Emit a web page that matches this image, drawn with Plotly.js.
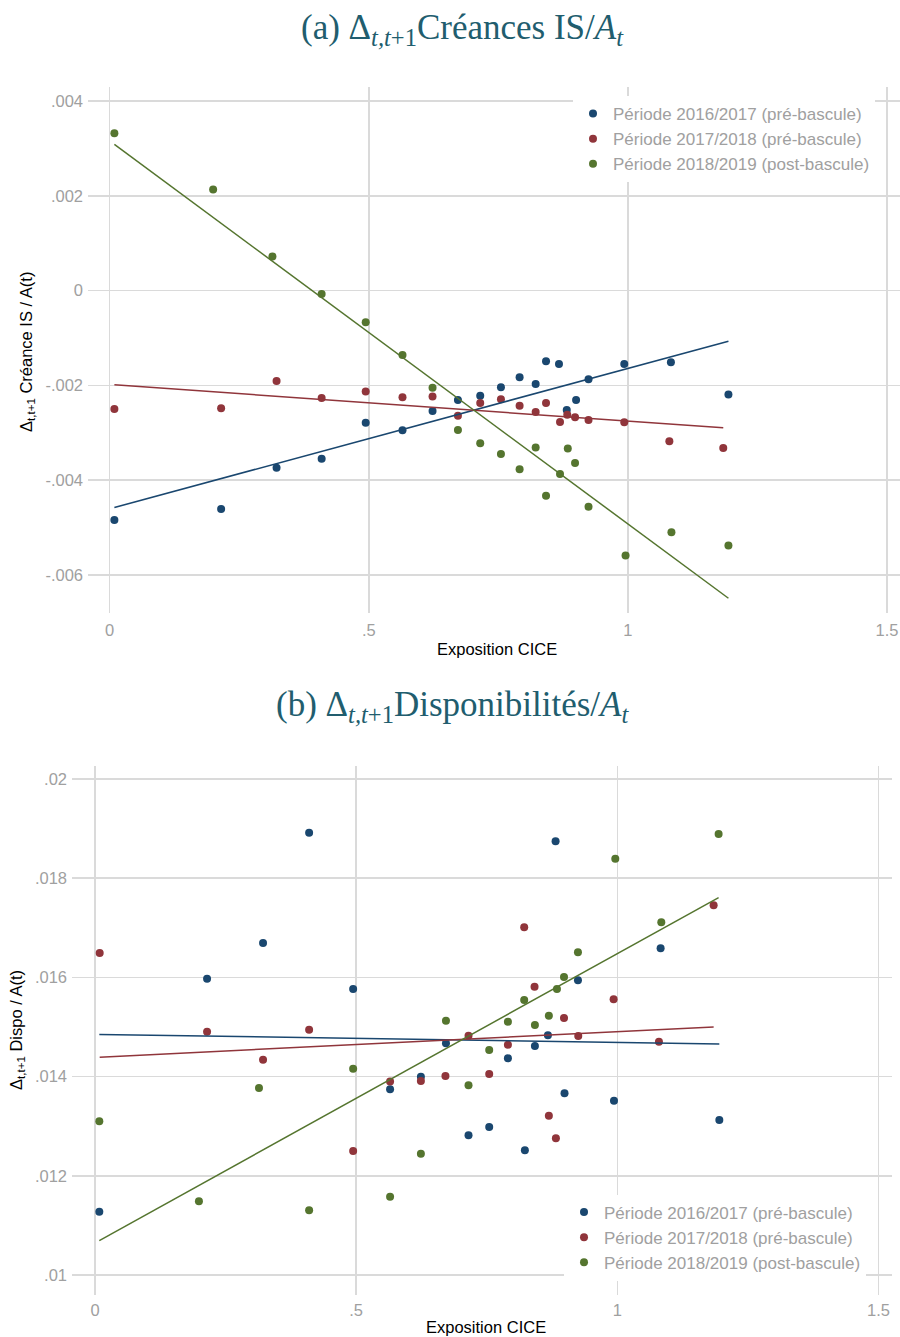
<!DOCTYPE html>
<html>
<head>
<meta charset="utf-8">
<script src="https://cdn.plot.ly/plotly-3.0.1.min.js"></script>
<style>html,body{margin:0;padding:0;background:#fff;}#chart{width:900px;height:1337px;}</style>
</head>
<body>
<div id="chart"></div>
<script>
// ---------- Data: panel (a) Δ Créances IS / A_t ----------
const seriesNames = ["Période 2016/2017 (pré-bascule)", "Période 2017/2018 (pré-bascule)", "Période 2018/2019 (post-bascule)"];
const seriesColors = ["#1a476f", "#90353b", "#55752f"];

const xA_1617 = [0.009, 0.215, 0.322, 0.409, 0.494, 0.565, 0.623, 0.672, 0.715, 0.755, 0.791, 0.822, 0.842, 0.867, 0.882, 0.900, 0.924, 0.993, 1.083, 1.194];
const yA_1617 = [-0.00484, -0.00461, -0.00374, -0.00355, -0.00279, -0.002946, -0.00254, -0.00231, -0.00222, -0.00204, -0.00183, -0.00197, -0.00149, -0.00155, -0.00252, -0.00231, -0.00187, -0.00155, -0.00151, -0.00219];

const xA_1718 = [0.009, 0.215, 0.322, 0.409, 0.494, 0.565, 0.623, 0.672, 0.715, 0.755, 0.791, 0.822, 0.842, 0.869, 0.883, 0.898, 0.924, 0.993, 1.080, 1.184];
const yA_1718 = [-0.002496, -0.00248, -0.001905, -0.002264, -0.00213, -0.00225, -0.002236, -0.00264, -0.00237, -0.00229, -0.00243, -0.00256, -0.00237, -0.00277, -0.00262, -0.00267, -0.00273, -0.00278, -0.00318, -0.00332];

const xA_1819 = [0.009, 0.1996, 0.314, 0.409, 0.494, 0.565, 0.623, 0.672, 0.715, 0.755, 0.791, 0.822, 0.842, 0.869, 0.884, 0.898, 0.924, 0.9955, 1.084, 1.194];
const yA_1819 = [0.00332, 0.00213, 0.000717, -0.00007, -0.000667, -0.001357, -0.00205, -0.00294, -0.00322, -0.00345, -0.00377, -0.00331, -0.00433, -0.00387, -0.00333, -0.00364, -0.00456, -0.00559, -0.0051, -0.00538];

// ---------- Data: panel (b) Δ Disponibilités / A_t ----------
const xB_1617 = [0.0083, 0.2146, 0.3218, 0.410, 0.4943, 0.565, 0.624, 0.672, 0.7152, 0.7548, 0.7906, 0.8231, 0.8423, 0.8672, 0.8819, 0.899, 0.9247, 0.9937, 1.083, 1.1954];
const yB_1617 = [0.011276, 0.015974, 0.016694, 0.018918, 0.015766, 0.013744, 0.013998, 0.01467, 0.012816, 0.012984, 0.014368, 0.012514, 0.014617, 0.014833, 0.018744, 0.013663, 0.015941, 0.013514, 0.016586, 0.013125];

const xB_1718 = [0.009, 0.2146, 0.3218, 0.410, 0.4943, 0.565, 0.624, 0.671, 0.7152, 0.7548, 0.7906, 0.8218, 0.8416, 0.869, 0.8825, 0.898, 0.9253, 0.993, 1.0798, 1.1845];
const yB_1718 = [0.016492, 0.014906, 0.01434, 0.014946, 0.0125, 0.0139, 0.013911, 0.014012, 0.014825, 0.014052, 0.014643, 0.01701, 0.015813, 0.013212, 0.012755, 0.015181, 0.014819, 0.015558, 0.014704, 0.017453];

const xB_1819 = [0.0083, 0.199, 0.314, 0.410, 0.4943, 0.565, 0.624, 0.672, 0.7152, 0.7548, 0.7906, 0.8218, 0.8423, 0.869, 0.8845, 0.898, 0.9247, 0.9962, 1.0843, 1.194];
const yB_1819 = [0.013099, 0.011485, 0.01377, 0.011304, 0.01416, 0.011579, 0.012446, 0.015127, 0.013825, 0.014536, 0.015107, 0.015544, 0.01504, 0.015228, 0.015766, 0.016008, 0.016506, 0.018394, 0.01711, 0.018891];

// ---------- Tick labels ----------
const xTickVals = [0, 0.5, 1, 1.5];
const xTickText = ["0", ".5", "1", "1.5"];
const yATickVals = [-0.006, -0.004, -0.002, 0, 0.002, 0.004];
const yATickText = ["-.006", "-.004", "-.002", "0", ".002", ".004"];
const yBTickVals = [0.01, 0.012, 0.014, 0.016, 0.018, 0.02];
const yBTickText = [".01", ".012", ".014", ".016", ".018", ".02"];

// ---------- Helpers ----------
function olsLine(xs, ys) {
  const n = xs.length;
  const mx = xs.reduce((a, b) => a + b, 0) / n;
  const my = ys.reduce((a, b) => a + b, 0) / n;
  let sxy = 0, sxx = 0;
  for (let i = 0; i < n; i++) { sxy += (xs[i] - mx) * (ys[i] - my); sxx += (xs[i] - mx) ** 2; }
  const b = sxy / sxx, a = my - b * mx;
  const x0 = Math.min(...xs), x1 = Math.max(...xs);
  return { x: [x0, x1], y: [a + b * x0, a + b * x1] };
}

const panels = [
  { xa: "x", ya: "y", legend: "legend", data: [[xA_1617, yA_1617], [xA_1718, yA_1718], [xA_1819, yA_1819]] },
  { xa: "x2", ya: "y2", legend: "legend2", data: [[xB_1617, yB_1617], [xB_1718, yB_1718], [xB_1819, yB_1819]] }
];

const traces = [];
panels.forEach((p, pi) => {
  p.data.forEach((d, si) => {
    traces.push({
      type: "scatter", mode: "markers", x: d[0], y: d[1], xaxis: p.xa, yaxis: p.ya,
      name: seriesNames[si], legend: p.legend,
      marker: { color: seriesColors[si], size: 8 }, cliponaxis: false, hoverinfo: "skip"
    });
  });
  p.data.forEach((d, si) => {
    const f = olsLine(d[0], d[1]);
    traces.push({
      type: "scatter", mode: "lines", x: f.x, y: f.y, xaxis: p.xa, yaxis: p.ya,
      showlegend: false,
      line: { color: seriesColors[si], width: 1.5 }, hoverinfo: "skip"
    });
  });
});

const H = 1337, W = 900;
const gridColor = "#dadada";
const tickFont = { family: "Liberation Sans, Arial, sans-serif", size: 16.5, color: "#a0a0a0" };
const axTitleFont = { family: "Liberation Sans, Arial, sans-serif", size: 16.5, color: "#000" };
const titleFont = { family: "Liberation Serif, Times New Roman, serif", size: 35, color: "#215d6e" };
const legendFont = { family: "Liberation Sans, Arial, sans-serif", size: 17, color: "#a0a0a0" };

function px2py(y) { return 1 - y / H; }

const layout = {
  width: W, height: H,
  margin: { l: 0, r: 0, t: 0, b: 0 },
  paper_bgcolor: "#fff", plot_bgcolor: "#fff",
  showlegend: true,
  xaxis: {
    domain: [88 / W, 1], range: [-0.0419, 1.5251], anchor: "y",
    tickvals: xTickVals, ticktext: xTickText, tickfont: tickFont,
    showgrid: true, gridcolor: gridColor, gridwidth: 1.5, zeroline: false, showline: false, ticks: "", ticklabelstandoff: 5
  },
  yaxis: {
    domain: [px2py(613), px2py(87)], range: [-0.006802, 0.004295], anchor: "x",
    tickvals: yATickVals, ticktext: yATickText, tickfont: tickFont,
    showgrid: true, gridcolor: gridColor, gridwidth: 1.5, zeroline: false, showline: false, ticks: "", ticklabelstandoff: 4
  },
  xaxis2: {
    domain: [72 / W, 892 / W], range: [-0.044, 1.526], anchor: "y2",
    tickvals: xTickVals, ticktext: xTickText, tickfont: tickFont,
    showgrid: true, gridcolor: gridColor, gridwidth: 1.5, zeroline: false, showline: false, ticks: "", ticklabelstandoff: 3
  },
  yaxis2: {
    domain: [px2py(1295), px2py(765.7)], range: [0.009597, 0.020268], anchor: "x2",
    tickvals: yBTickVals, ticktext: yBTickText, tickfont: tickFont,
    showgrid: true, gridcolor: gridColor, gridwidth: 1.5, zeroline: false, showline: false, ticks: "", ticklabelstandoff: 4
  },
  legend: {
    x: 573 / W, y: px2py(96), xanchor: "left", yanchor: "top", xref: "paper", yref: "paper",
    bgcolor: "#fff", borderwidth: 0, font: legendFont, traceorder: "normal"
  },
  legend2: {
    x: 564 / W, y: px2py(1194.5), xanchor: "left", yanchor: "top", xref: "paper", yref: "paper",
    bgcolor: "#fff", borderwidth: 0, font: legendFont, traceorder: "normal"
  },
  annotations: [
    { text: "(a) Δ<sub><i>t,t</i>+1</sub>Créances IS/<i>A</i><sub><i>t</i></sub>", x: 462 / W, y: px2py(29), xref: "paper", yref: "paper", xanchor: "center", yanchor: "middle", showarrow: false, font: titleFont },
    { text: "(b) Δ<sub><i>t,t</i>+1</sub>Disponibilités/<i>A</i><sub><i>t</i></sub>", x: 453 / W, y: px2py(707), xref: "paper", yref: "paper", xanchor: "center", yanchor: "middle", showarrow: false, font: titleFont },
    { text: "Exposition CICE", x: 497 / W, y: px2py(649), xref: "paper", yref: "paper", xanchor: "center", yanchor: "middle", showarrow: false, font: axTitleFont },
    { text: "Exposition CICE", x: 486 / W, y: px2py(1327), xref: "paper", yref: "paper", xanchor: "center", yanchor: "middle", showarrow: false, font: axTitleFont },
    { text: "Δ<sub>t,t+1</sub> Créance IS / A(t)", x: 27 / W, y: px2py(352), xref: "paper", yref: "paper", xanchor: "center", yanchor: "middle", textangle: -90, showarrow: false, font: axTitleFont },
    { text: "Δ<sub>t,t+1</sub> Dispo / A(t)", x: 17 / W, y: px2py(1030), xref: "paper", yref: "paper", xanchor: "center", yanchor: "middle", textangle: -90, showarrow: false, font: axTitleFont }
  ]
};

Plotly.newPlot("chart", traces, layout, { displayModeBar: false, staticPlot: true });
</script>
</body>
</html>
